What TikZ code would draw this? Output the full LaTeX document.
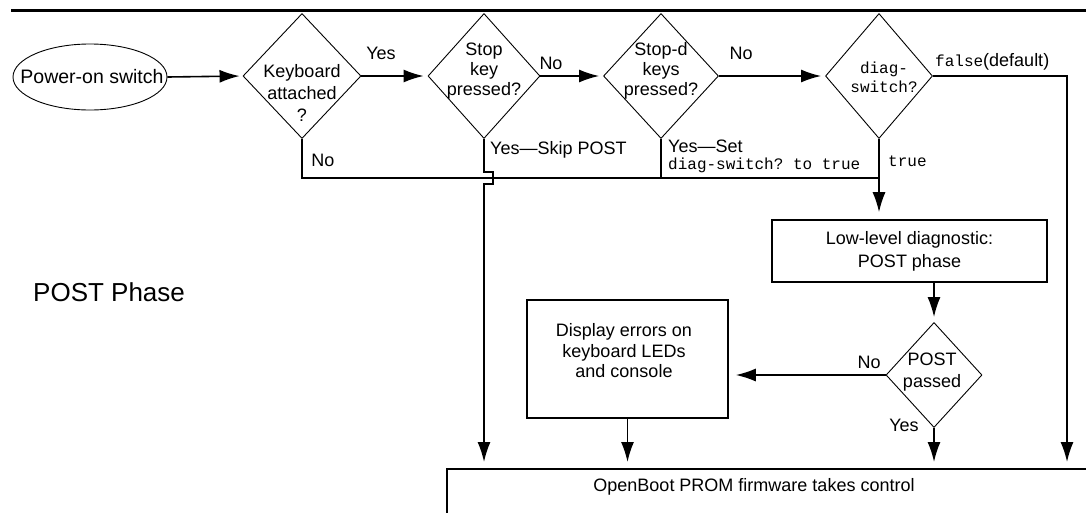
\documentclass[tikz,border=0pt]{standalone}
\usepackage{fontspec}
\setmainfont{Liberation Sans}
\setmonofont{Liberation Mono}
\usetikzlibrary{shapes.geometric,arrows.meta}
\begin{document}
\begin{tikzpicture}[x=1pt,y=-1pt,
  conn/.style={line width=1.6pt},
  arr/.style={conn,-{Latex[length=20pt,width=13pt]}},
  dia/.style={diamond,draw,line width=0.9pt,inner sep=0pt},
  box/.style={draw,line width=1.6pt,inner sep=0pt},
  txt/.style={font=\fontsize{18}{21}\selectfont,align=center,inner sep=0pt},
  lbl/.style={font=\fontsize{18}{21}\selectfont,inner sep=0pt},
  ttl/.style={font=\fontsize{16}{20}\ttfamily,inner sep=0pt}
]
\path[use as bounding box,fill=white] (0,0) rectangle (1086,512);
\clip (0,0) rectangle (1086,512);

% top rule
\draw[line width=3pt] (11,10) -- (1086,10);

% nodes
\node[draw,ellipse,line width=0.9pt,minimum width=154pt,minimum height=66pt,inner sep=0pt] (pow) at (90,77) {};
\node[txt,font=\fontsize{19.5}{22}\selectfont] (powt) at (92,77) {Power-on switch};

\node[dia,minimum width=118pt,minimum height=125pt] (d1) at (302,76) {};
\node[txt,font=\fontsize{18}{22}\selectfont] (d1t) at (302,93) {Keyboard\\attached\\?};

\node[dia,minimum width=112pt,minimum height=125pt] (d2) at (484,76) {};
\node[txt,font=\fontsize{18}{20}\selectfont] (d2t) at (484,71) {Stop\\key\\pressed?};

\node[dia,minimum width=115pt,minimum height=125pt] (d3) at (661,76) {};
\node[txt,font=\fontsize{18}{20}\selectfont] (d3t) at (661,71) {Stop-d\\keys\\pressed?};

\node[dia,minimum width=107pt,minimum height=125pt] (d4) at (879,76) {};
\node[txt,font=\fontsize{16}{19}\ttfamily] (d4t) at (884,77) {diag-\\switch?};

\node[box,minimum width=275pt,minimum height=62pt,txt,font=\fontsize{18}{23}\selectfont] (low) at (909.5,251) {Low-level diagnostic:\\POST phase};

\node[dia,minimum width=96pt,minimum height=105pt] (d5) at (934,375) {};
\node[txt,font=\fontsize{18}{22}\selectfont] (d5t) at (932,372) {POST\\passed};

\node[box,minimum width=201pt,minimum height=118pt] (disp) at (627.5,359) {};
\node[txt,font=\fontsize{18}{20.5}\selectfont] (dispt) at (624,351) {Display errors on\\keyboard LEDs\\and console};

\node[box,anchor=north west,minimum width=700pt,minimum height=100pt] (ob) at (446,468) {};
\node[txt] (obt) at (754,487) {OpenBoot PROM firmware takes control};

\node[inner sep=0pt,anchor=west,font=\fontsize{26}{30}\selectfont] (phase) at (33,292) {POST Phase};

% labels
\node[lbl] (l1) at (381,53) {Yes};
\node[lbl] (l2) at (323,160) {No};
\node[lbl] (l3) at (551,63) {No};
\node[lbl] (l4) at (741,53) {No};
\node[lbl,anchor=west] (l5) at (490,150) {Yes---Skip POST};
\node[lbl,anchor=west] (l6) at (668,146) {Yes---Set};
\node[ttl,anchor=west] (l7) at (668,165) {diag-switch? to true};
\node[ttl,anchor=west] (l8) at (888,161) {true};
\node[lbl,anchor=west] (l9) at (935,62) {\ttfamily\fontsize{16}{20}\selectfont false\rmfamily\fontsize{18}{21}\selectfont(default)};
\node[lbl] (l10) at (869,362) {No};
\node[lbl] (l11) at (904,425) {Yes};

% helper coordinates
\coordinate (rt) at (1067,76);
\coordinate (bus) at (879,178);
\coordinate (j1) at (484,172);
\coordinate (j2) at (484,184);

% connectors
\draw[arr,shorten >=3pt] (pow.east) -- (d1.west);
\draw[arr,shorten >=4pt] (d1.east) -- (d2.west);
\draw[arr,shorten >=4pt] (d2.east) -- (d3.west);
\draw[arr,shorten >=4pt] (d3.east) -- (d4.west);
\draw[arr,shorten >=6pt] (d4.east) -- (rt) -- (rt |- ob.north);
\draw[conn] (d1.south) -- (d1.south |- bus) -- (bus);
\draw[conn] (d3.south) -- (d3.south |- bus);
\draw[arr,shorten >=6pt] (d2.south) -- (j1) -- ++(9,0) -- ++(0,12) -- (j2) -- (j2 |- ob.north);
\draw[arr,shorten >=7pt] (d4.south) -- (d4.south |- low.north);
\draw[arr,shorten >=5pt] (d5.north |- low.south) -- (d5.north);
\draw[arr,shorten >=7pt] (d5.west) -- (d5.west -| disp.east);
\draw[arr,shorten >=6pt] (d5.south) -- (d5.south |- ob.north);
\draw[arr,shorten >=6pt] (disp.south) -- (disp.south |- ob.north);
\end{tikzpicture}
\end{document}
